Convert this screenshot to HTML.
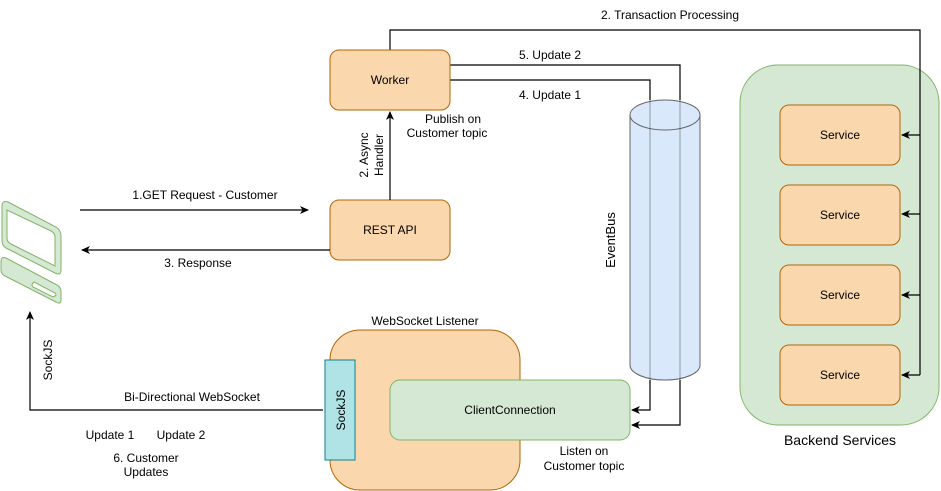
<!DOCTYPE html>
<html><head><meta charset="utf-8"><style>
html,body{margin:0;padding:0;background:#fff;}
svg{display:block;font-family:"Liberation Sans",Arial,sans-serif;}
</style></head><body>
<svg width="941" height="491" viewBox="0 0 941 491" xmlns="http://www.w3.org/2000/svg">
<defs>
<marker id="a" markerWidth="10" markerHeight="10" refX="8" refY="5" orient="auto" markerUnits="userSpaceOnUse">
<path d="M0,1 L9,5 L0,9 L2.5,5 Z" fill="#000"/></marker>
</defs>
<!-- backend group -->
<rect x="740" y="65" width="199" height="360" rx="38" fill="#d5e8d4" stroke="#82b366"/>
<text x="840" y="445" font-size="14" text-anchor="middle">Backend Services</text>
<g fill="#fad7ac" stroke="#b46504">
<rect x="780" y="105" width="120" height="60" rx="9"/>
<rect x="780" y="185" width="120" height="60" rx="9"/>
<rect x="780" y="265" width="120" height="60" rx="9"/>
<rect x="780" y="345" width="120" height="60" rx="9"/>
</g>
<g font-size="12" text-anchor="middle">
<text x="840" y="139">Service</text><text x="840" y="219">Service</text>
<text x="840" y="299">Service</text><text x="840" y="379">Service</text>
</g>
<!-- transaction processing -->
<g fill="none" stroke="#000" stroke-width="1.2">
<path d="M390,50 V30 H920 V375"/>
<path d="M920,135 H902" marker-end="url(#a)"/>
<path d="M920,214 H902" marker-end="url(#a)"/>
<path d="M920,295 H902" marker-end="url(#a)"/>
<path d="M920,375 H902" marker-end="url(#a)"/>
</g>
<text x="670" y="19" font-size="12" text-anchor="middle">2. Transaction Processing</text>
<!-- cylinder -->
<path d="M630,115 V365 A35,15 0 0 0 700,365 V115" fill="#dae8fc" stroke="#6c8ebf" stroke-opacity="0.9"/>
<path d="M630,115 V365 A35,15 0 0 0 700,365 V115 A35,15 0 0 0 630,115 Z" fill="#dae8fc" stroke="#666"/>
<path d="M630,115 A35,15 0 0 0 700,115" fill="none" stroke="#666"/>
<!-- update lines -->
<g fill="none" stroke="#000" stroke-width="1.2">
<path d="M450,65 H680 V100"/><path d="M450,80 H650 V100"/>
<path d="M680,380 V425 H632" marker-end="url(#a)"/>
<path d="M650,380 V410 H632" marker-end="url(#a)"/>
</g>
<g stroke="#000" stroke-opacity="0.35"><line x1="650" y1="100" x2="650" y2="380"/><line x1="680" y1="100" x2="680" y2="380"/></g>
<text x="550" y="59" font-size="12" text-anchor="middle">5. Update 2</text>
<text x="550" y="99" font-size="12" text-anchor="middle">4. Update 1</text>
<text transform="translate(615,240) rotate(-90)" font-size="13" text-anchor="middle">EventBus</text>
<!-- worker / rest -->
<rect x="330" y="50" width="120" height="60" rx="9" fill="#fad7ac" stroke="#b46504"/>
<text x="390" y="84" font-size="12" text-anchor="middle">Worker</text>
<rect x="330" y="200" width="120" height="60" rx="9" fill="#fad7ac" stroke="#b46504"/>
<text x="390" y="234" font-size="12" text-anchor="middle">REST API</text>
<path d="M390,200 V112" stroke="#000" stroke-width="1.2" fill="none" marker-end="url(#a)"/>
<text transform="translate(368,155) rotate(-90)" font-size="12" text-anchor="middle">2. Async</text>
<text transform="translate(383,155) rotate(-90)" font-size="12" text-anchor="middle">Handler</text>
<text x="453" y="123" font-size="12" text-anchor="middle">Publish on</text>
<text x="447" y="137" font-size="12" text-anchor="middle">Customer topic</text>
<!-- client arrows -->
<g fill="none" stroke="#000" stroke-width="1.2">
<path d="M80,210 H308" marker-end="url(#a)"/>
<path d="M330,250 H82" marker-end="url(#a)"/>
<path d="M323,410 H30 V312" marker-end="url(#a)"/>
</g>
<text x="205" y="199" font-size="12" text-anchor="middle">1.GET Request - Customer</text>
<text x="198" y="267" font-size="12" text-anchor="middle">3. Response</text>
<text x="192" y="401" font-size="12" text-anchor="middle">Bi-Directional WebSocket</text>
<text transform="translate(52,360) rotate(-90)" font-size="12" text-anchor="middle">SockJS</text>
<text x="110" y="439" font-size="12" text-anchor="middle">Update 1</text>
<text x="181" y="439" font-size="12" text-anchor="middle">Update 2</text>
<text x="146" y="462" font-size="12" text-anchor="middle">6. Customer</text>
<text x="146" y="476" font-size="12" text-anchor="middle">Updates</text>
<!-- laptop -->
<g fill="#d5e8d4" stroke="#82b366" stroke-width="1">
<path d="M2,206 Q2,200 8,202 L56,227 Q61,230 61,236 L61,270 Q61,276 55,273 L6,248 Q2,246 2,240 Z M7,210 L7,238 Q7,242 11,244 L55,266 L55,237 Q55,233 51,231 L7,210 Z" fill-rule="evenodd"/>
<path d="M1,262 Q1,256 6,258 L57,285 Q61,287 61,292 L61,300 Q61,305 56,302 L5,276 Q1,274 1,270 Z"/>
<path d="M34,282 L55,293 Q57,295 55,296 L53,297 L33,287 Q31,285 33,283 Z" fill="#fff"/>
</g>
<!-- websocket listener -->
<text x="425" y="325" font-size="12" text-anchor="middle">WebSocket Listener</text>
<rect x="330" y="330" width="190" height="160" rx="30" fill="#fad7ac" stroke="#b46504"/>
<rect x="325" y="360" width="30" height="100" fill="#b0e3e6" stroke="#0e8088"/>
<text transform="translate(345,410) rotate(-90)" font-size="12" text-anchor="middle">SockJS</text>
<rect x="390" y="380" width="240" height="60" rx="10" fill="#d5e8d4" stroke="#82b366"/>
<text x="510" y="414" font-size="12" text-anchor="middle">ClientConnection</text>
<text x="584" y="455" font-size="12" text-anchor="middle">Listen on</text>
<text x="584" y="470" font-size="12" text-anchor="middle">Customer topic</text>
</svg>
</body></html>
